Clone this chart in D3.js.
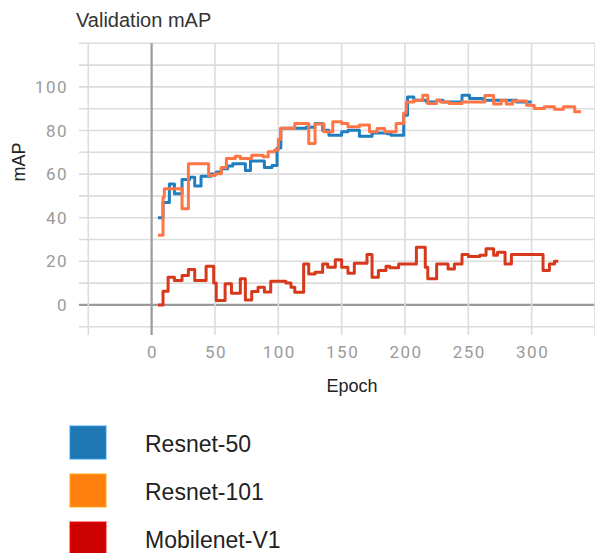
<!DOCTYPE html>
<html>
<head>
<meta charset="utf-8">
<script src="https://cdn.jsdelivr.net/npm/d3@7"></script>
<style>
  body { margin: 0; background: #fff; }
  svg { display: block; }
</style>
</head>
<body>
<svg id="chart" width="595" height="553"></svg>
<script>
// series names and legend colours
const seriesNames = ["Resnet-50", "Resnet-101", "Mobilenet-V1"];
const legendColors = ["#1f77b4", "#ff7f0e", "#cc0000"];
const lineColors = ["#1f7ec0", "#ff7546", "#d6391c"];

// Resnet-50: epoch where each step starts, and its mAP
const resnet50Epochs = [5, 9, 14, 18, 24, 30, 34, 39, 47, 51, 55, 60, 64, 74, 78, 89, 95, 99, 102, 122, 129, 135, 140, 150, 155, 164, 174, 186, 189, 199, 202, 207, 217, 225, 230, 245, 251, 262, 288, 300];
const resnet50Map = [40, 47, 55.5, 51, 57.5, 58.5, 54.5, 59, 60, 61, 62.5, 63.7, 64.8, 61.7, 66, 63, 64, 72, 81, 81.5, 83.2, 80.1, 77.8, 79.4, 80.1, 77.4, 78.9, 78.5, 77.8, 87, 95.4, 93.9, 93.1, 93.9, 93.1, 96.2, 94.7, 93.9, 93.1, 93.1];

// Resnet-101
const resnet101Epochs = [5, 9, 10, 24, 29, 45, 50, 55, 59, 66, 70, 79, 88, 92, 97, 100, 102, 113, 124, 129, 136, 143, 150, 155, 164, 172, 178, 184, 193, 199, 201, 207, 214, 218, 225, 228, 235, 245, 263, 270, 276, 280, 285, 296, 302, 310, 318, 325, 334, 339];
const resnet101Map = [31.9, 49.5, 53.3, 44.1, 64.8, 59.4, 60.2, 63, 67.1, 68.2, 67.1, 68.6, 68, 70.2, 71, 76, 81, 83.2, 74, 83, 79.4, 84, 83.2, 81.7, 82.5, 79.4, 80.9, 79.4, 83.2, 88, 93.1, 93.9, 96.2, 92.4, 93.9, 93.1, 92.4, 93.1, 96, 92.1, 93.9, 92.1, 93.5, 91.6, 90.1, 90.9, 89.7, 90.9, 88.6, 88.6];

// Mobilenet-V1
const mobilenetEpochs = [5, 9, 13, 18, 24, 29, 34, 43, 49, 51, 58, 63, 70, 74, 79, 84, 89, 94, 106, 110, 113, 120, 124, 129, 135, 139, 145, 150, 155, 160, 170, 174, 179, 185, 188, 195, 209, 216, 218, 225, 234, 239, 245, 250, 259, 264, 270, 273, 279, 284, 309, 314, 318, 321];
const mobilenetMap = [0, 6.3, 12.7, 11.2, 13.5, 16.2, 11.2, 17.7, 10, 2, 9.7, 5.3, 12, 2.3, 6.1, 8.1, 5.9, 10.9, 10, 8.1, 5.8, 18.8, 14.2, 15, 18.8, 17.3, 20.7, 17.3, 14.5, 19.1, 23.1, 12.7, 15.8, 17.7, 17, 18.8, 26.5, 17.3, 12, 18.8, 16.5, 18.8, 23.1, 22.2, 22.8, 25.7, 22.8, 24.2, 18.8, 23.1, 15.8, 18.8, 20, 20];

const xTicks = [0, 50, 100, 150, 200, 250, 300];
const yTicks = [0, 20, 40, 60, 80, 100];

const svg = d3.select("#chart");

const x = d3.scaleLinear().domain([-50, 350]).range([88.3, 595]);
const y = d3.scaleLinear().domain([-10, 120]).range([326.7, 43.3]);

const tickFont = "Roboto, 'Liberation Sans', sans-serif";
const textFont = "'Liberation Sans', Arial, sans-serif";

// grid
const grid = svg.append("g");
grid.selectAll("line.h")
  .data(d3.range(-10, 121, 10))
  .join("line")
  .attr("x1", 79).attr("x2", 595)
  .attr("y1", d => y(d)).attr("y2", d => y(d))
  .attr("stroke", d => d === 0 ? "#9a9a9a" : "#dcdcdc")
  .attr("stroke-width", d => d === 0 ? 2.2 : 1.6);

grid.selectAll("line.v")
  .data(d3.range(-50, 351, 50))
  .join("line")
  .attr("x1", d => x(d)).attr("x2", d => x(d))
  .attr("y1", 43.3).attr("y2", 335)
  .attr("stroke", d => d === 0 ? "#9a9a9a" : "#dcdcdc")
  .attr("stroke-width", d => d === 0 ? 2.2 : 1.6);

// tick labels
svg.append("g").selectAll("text")
  .data(yTicks)
  .join("text")
  .attr("x", 68)
  .attr("y", d => y(d) + 6)
  .attr("text-anchor", "end")
  .attr("font-family", tickFont)
  .attr("font-size", 17)
  .attr("letter-spacing", 1.5)
  .attr("fill", "#9b9b9b")
  .text(d => d);

svg.append("g").selectAll("text")
  .data(xTicks)
  .join("text")
  .attr("x", d => x(d) + 1)
  .attr("y", 358)
  .attr("text-anchor", "middle")
  .attr("font-family", tickFont)
  .attr("font-size", 17)
  .attr("letter-spacing", 1.5)
  .attr("fill", "#9b9b9b")
  .text(d => d);

// titles
svg.append("text")
  .attr("x", 76).attr("y", 27)
  .attr("font-family", textFont)
  .attr("font-size", 20)
  .attr("fill", "#333")
  .text("Validation mAP");

svg.append("text")
  .attr("transform", "translate(25,162) rotate(-90)")
  .attr("text-anchor", "middle")
  .attr("font-family", textFont)
  .attr("font-size", 18)
  .attr("fill", "#222")
  .text("mAP");

svg.append("text")
  .attr("x", 352).attr("y", 392)
  .attr("text-anchor", "middle")
  .attr("font-family", textFont)
  .attr("font-size", 18)
  .attr("fill", "#222")
  .text("Epoch");

// lines
const series = [
  { epochs: resnet50Epochs, values: resnet50Map },
  { epochs: resnet101Epochs, values: resnet101Map },
  { epochs: mobilenetEpochs, values: mobilenetMap }
];

const line = d3.line()
  .x(d => x(d[0]))
  .y(d => y(d[1]))
  .curve(d3.curveStepAfter);

series.forEach((s, i) => {
  svg.append("path")
    .datum(s.epochs.map((e, j) => [e, s.values[j]]))
    .attr("fill", "none")
    .attr("stroke", lineColors[i])
    .attr("stroke-width", 3)
    .attr("stroke-linejoin", "round")
    .attr("d", line);
});

// legend
const legend = svg.append("g")
  .selectAll("g")
  .data(seriesNames)
  .join("g")
  .attr("transform", (d, i) => `translate(70,${426 + i * 48})`);

legend.append("rect")
  .attr("x", 0).attr("y", 0)
  .attr("width", 36).attr("height", 33)
  .attr("fill", (d, i) => legendColors[i])
  .attr("stroke", (d, i) => d3.color(legendColors[i]).brighter(0.8))
  .attr("stroke-opacity", 0.6)
  .attr("stroke-width", 1.5);

legend.append("text")
  .attr("x", 75).attr("y", 26)
  .attr("font-family", textFont)
  .attr("font-size", 23)
  .attr("fill", "#222")
  .text(d => d);
</script>
</body>
</html>
